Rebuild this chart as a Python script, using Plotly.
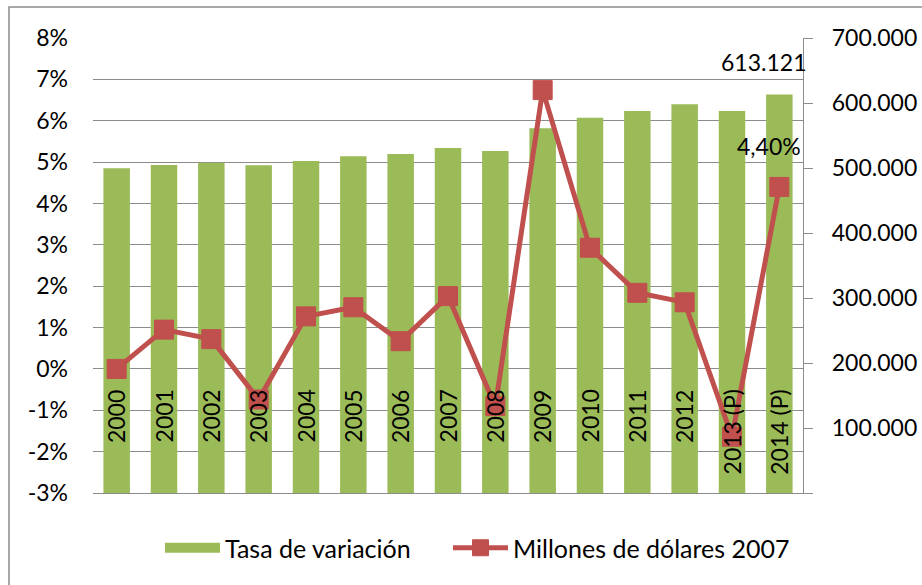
import plotly.graph_objects as go

# ---------------- data ----------------
categories = ["2000", "2001", "2002", "2003", "2004", "2005", "2006", "2007",
              "2008", "2009", "2010", "2011", "2012", "2013 (P)", "2014 (P)"]
# green bars (right axis, millions)
bar_values = [499500, 504600, 508200, 504200, 510800, 518000, 521500, 530800,
              526200, 561000, 577400, 587700, 598000, 587700, 613121]
# red line (left axis, percent)
line_values = [0.00, 0.95, 0.72, -0.74, 1.27, 1.49, 0.67, 1.76,
               -0.90, 6.74, 2.93, 1.84, 1.61, -1.64, 4.40]

bar_name = "Tasa de variación"
line_name = "Millones de dólares 2007"

left_ticks = [-3, -2, -1, 0, 1, 2, 3, 4, 5, 6, 7, 8]
left_ticktext = [f"{v}%" for v in left_ticks]
right_ticks = [0, 100000, 200000, 300000, 400000, 500000, 600000, 700000]
right_ticktext = ["" if v == 0 else f"{v:,.0f}".replace(",", ".") for v in right_ticks]

# ---------------- style ----------------
FONT = "Lato"
FS = 23
FS_LEG = 25
GREEN = "#9BBB59"
RED = "#C0504D"
GRAY = "#8C8C8C"

x_idx = list(range(len(categories)))

fig = go.Figure()

fig.add_trace(go.Bar(
    x=x_idx, y=bar_values, name=bar_name,
    marker=dict(color=GREEN, line=dict(width=0)),
    yaxis="y", hoverinfo="skip", showlegend=False,
))
# legend proxy for the bars (wide green swatch like the original)
fig.add_trace(go.Scatter(
    x=[None], y=[None], name=bar_name, mode="lines",
    line=dict(color=GREEN, width=15), yaxis="y", hoverinfo="skip",
    legend="legend",
))
fig.add_trace(go.Scatter(
    x=x_idx, y=line_values, name=line_name, mode="lines+markers",
    line=dict(color=RED, width=5),
    marker=dict(symbol="square", size=19, color=RED, line=dict(color=RED, width=1)),
    yaxis="y2", hoverinfo="skip", legend="legend2",
))

annotations = []
# category labels hanging below the 0% line, rotated
for i, c in enumerate(categories):
    annotations.append(dict(
        x=i, y=0, xref="x", yref="y2", text=c, showarrow=False,
        textangle=-90, yanchor="top", xanchor="center", yshift=-19,
        font=dict(family=FONT, size=FS, color="black"),
    ))
# data labels for the last category
last = len(categories) - 1
annotations.append(dict(
    x=last, y=bar_values[-1], xref="x", yref="y",
    text=f"{bar_values[-1]:,.0f}".replace(",", "."), showarrow=False,
    xanchor="center", yanchor="middle", xshift=-16, yshift=32,
    font=dict(family=FONT, size=FS, color="black"),
))
annotations.append(dict(
    x=last, y=line_values[-1], xref="x", yref="y2",
    text=f"{line_values[-1]:.2f}%".replace(".", ","), showarrow=False,
    xanchor="center", yanchor="middle", xshift=-10, yshift=41,
    font=dict(family=FONT, size=FS, color="black"),
))

W, H = 922, 585
L, R, T, B = 93, 119, 38, 92
pw, ph = W - L - R, H - T - B

def px_x(x):
    return (x - L) / pw

def px_y(y):
    return (H - B - y) / ph

legend_common = dict(
    orientation="h", xanchor="left", y=px_y(548), yanchor="middle",
    font=dict(family=FONT, size=FS_LEG, color="black"),
    itemwidth=55, bgcolor="rgba(0,0,0,0)",
)

fig.update_layout(
    width=W, height=H,
    margin=dict(l=L, r=R, t=T, b=B, pad=0, autoexpand=False),
    paper_bgcolor="white", plot_bgcolor="white",
    font=dict(family=FONT, size=FS, color="black"),
    bargap=0.44,
    showlegend=True,
    legend=dict(x=px_x(160), **legend_common),
    legend2=dict(x=px_x(448), **legend_common),
    xaxis=dict(
        range=[-0.5, len(categories) - 0.5],
        showticklabels=False, ticks="", showgrid=False, zeroline=False,
        showline=True, linecolor=GRAY, linewidth=1.3, mirror=False,
        automargin=False,
    ),
    yaxis=dict(
        side="right", range=[0, 700000], tickvals=right_ticks, ticktext=right_ticktext,
        ticks="outside", ticklen=9, tickcolor=GRAY, tickwidth=1.3,
        showline=True, linecolor=GRAY, linewidth=1.3,
        showgrid=False, zeroline=False, ticklabelstandoff=14, automargin=False,
        tickfont=dict(family=FONT, size=FS, color="black"),
    ),
    yaxis2=dict(
        overlaying="y", side="left", range=[-3, 8], tickvals=left_ticks, ticktext=left_ticktext,
        ticks="", showline=False, showgrid=True, gridcolor=GRAY, gridwidth=1.3,
        zeroline=False, ticklabelstandoff=24, automargin=False,
        tickfont=dict(family=FONT, size=FS, color="black"),
    ),
    annotations=annotations,
    shapes=[dict(
        type="rect", xref="paper", yref="paper",
        x0=px_x(9), x1=px_x(940), y0=px_y(7), y1=px_y(600),
        line=dict(color="#8C8C8C", width=1.5), fillcolor="rgba(0,0,0,0)", layer="below",
    )],
)

fig.write_html("out.html", config={"displayModeBar": False},
               post_script="document.body.style.margin='0px';")
